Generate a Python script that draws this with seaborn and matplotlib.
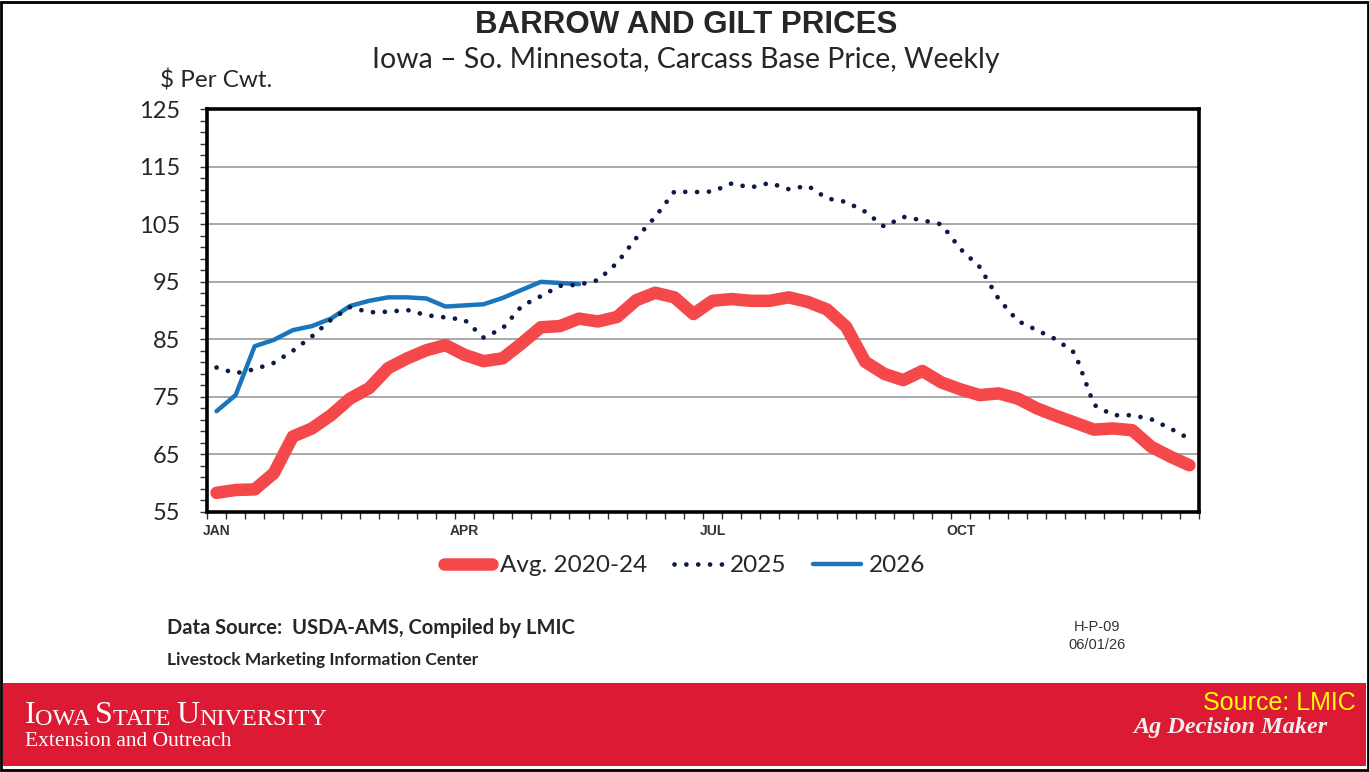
import numpy as np
import pandas as pd
import matplotlib.pyplot as plt
import seaborn as sns
from matplotlib.patches import Rectangle
from matplotlib.text import Annotation
from matplotlib.ticker import FixedLocator

# ── Data ($ per cwt, weekly) ──────────────────────────────────
weeks = list(range(52))
avg_2020_24 = [58.3, 58.8, 58.9, 61.7, 68.1, 69.5, 71.8, 74.7, 76.5, 80.0,
               81.7, 83.1, 84.0, 82.3, 81.2, 81.7, 84.3, 87.1, 87.3, 88.6,
               88.1, 88.9, 91.8, 93.1, 92.3, 89.4, 91.7, 92.0, 91.7, 91.7,
               92.3, 91.5, 90.2, 87.2, 81.1, 79.0, 77.9, 79.5, 77.5, 76.3,
               75.3, 75.6, 74.7, 73.0, 71.7, 70.5, 69.3, 69.5, 69.2, 66.3,
               64.6, 63.1]
prices_2025 = [80.1, 79.1, 79.8, 80.9, 83.0, 85.5, 88.4, 90.6, 89.7, 89.8,
               90.1, 89.2, 88.8, 88.4, 85.3, 86.9, 90.8, 92.5, 94.3, 94.5,
               95.3, 98.3, 102.6, 106.3, 110.7, 110.6, 110.7, 112.1, 111.4, 112.2,
               111.1, 111.7, 109.5, 108.9, 107.2, 104.6, 106.3, 105.7, 105.0, 100.7,
               97.6, 92.0, 88.2, 86.6, 85.0, 82.6, 73.6, 71.8, 71.8, 71.1,
               69.5, 67.7]
prices_2026 = [72.5, 75.3, 83.8, 84.9, 86.6, 87.3, 88.6, 90.8, 91.7, 92.3,
               92.3, 92.1, 90.7, 90.9, 91.1, 92.2, 93.6, 95.0, 94.8, 94.6]

month_labels = ["JAN", "APR", "JUL", "OCT"]
month_weeks = [0, 13, 26, 39]
y_ticks = [55, 65, 75, 85, 95, 105, 115, 125]

df_avg = pd.DataFrame({"week": weeks, "price": avg_2020_24})
df_25 = pd.DataFrame({"week": weeks, "price": prices_2025})
df_26 = pd.DataFrame({"week": weeks[:len(prices_2026)], "price": prices_2026})

sns.set_style("white")
plt.rcParams["font.family"] = ["Lato", "DejaVu Sans"]

fig = plt.figure(figsize=(13.69, 7.72), dpi=100)
ax = fig.add_axes([0.1512, 0.337, 0.7246, 0.5214])

# ── Lines ──────────────────────────────────────────
sns.lineplot(data=df_avg, x="week", y="price", ax=ax, color="#f5484a",
             linewidth=9, solid_capstyle="round", label="Avg. 2020-24", zorder=2)
sns.lineplot(data=df_25, x="week", y="price", ax=ax, color="#0c1a48",
             linewidth=3.4, linestyle=(0, (0.01, 2.5)), dash_capstyle="round",
             label="2025", zorder=4)
sns.lineplot(data=df_26, x="week", y="price", ax=ax, color="#1b75bb",
             linewidth=3.2, label="2026", zorder=3)

# ── Axes ───────────────────────────────────────────
ax.set_xlim(-0.5, 51.5)
ax.set_ylim(55, 125)
ax.set_xlabel("")
ax.set_ylabel("")

ax.xaxis.set_major_locator(FixedLocator(np.arange(-0.5, 52, 1)))
ax.tick_params(axis="x", which="major", direction="out", length=5, width=1,
               color="#333333", labelbottom=False, bottom=True)
ax.set_xticks(month_weeks, labels=month_labels, minor=True)
ax.tick_params(axis="x", which="minor", length=0, pad=9, labelsize=10,
               labelcolor="#333333")
for lbl in ax.get_xticklabels(minor=True):
    lbl.set_family("Liberation Sans")
    lbl.set_fontweight("bold")

ax.set_yticks(y_ticks)
ax.yaxis.set_minor_locator(FixedLocator(np.arange(57, 125, 2)))
ax.tick_params(axis="y", which="both", direction="out", length=5, width=1,
               color="#333333", left=True, labelsize=17, pad=14)
ax.grid(True, axis="y", which="major", color="#9a9a9a", linewidth=1.2)
for s in ax.spines.values():
    s.set_color("black")
    s.set_linewidth(2.6)

ax.legend(loc="center", bbox_to_anchor=(0.5, 0.267),
          bbox_transform=fig.transFigure, ncol=3, frameon=False, fontsize=17.5,
          handlelength=2.0, handletextpad=0.3, columnspacing=1.1)

# ── Titles and notes ───────────────────────────────
fig.text(0.501, 0.968, "BARROW AND GILT PRICES", ha="center", va="center",
         fontsize=22.5, fontweight="bold", family="Liberation Sans")
fig.text(0.501, 0.922, "Iowa \u2013 So. Minnesota, Carcass Base Price, Weekly",
         ha="center", va="center", fontsize=20.5)
fig.text(0.117, 0.896, "$ Per Cwt.", ha="left", va="center", fontsize=17.5)
fig.text(0.122, 0.187, "Data Source:  USDA-AMS, Compiled by LMIC",
         ha="left", va="center", fontsize=14.5, fontweight="bold")
fig.text(0.122, 0.145, "Livestock Marketing Information Center",
         ha="left", va="center", fontsize=12.5, fontweight="bold")
fig.text(0.801, 0.188, "H-P-09", ha="center", va="center", fontsize=10.5,
         family="Liberation Sans", color="#333333")
fig.text(0.801, 0.165, "06/01/26", ha="center", va="center", fontsize=10.5,
         family="Liberation Sans", color="#333333")

# ── Footer band ────────────────────────────────────
fig.patches.append(Rectangle((0.002, 0.0078), 0.996, 0.1075,
                             transform=fig.transFigure, facecolor="#dc1a33",
                             edgecolor="none", zorder=-1))
fig.patches.append(Rectangle((0.001, 0.002), 0.998, 0.996,
                             transform=fig.transFigure, fill=False,
                             edgecolor="black", linewidth=2, zorder=5))

# small caps wordmark, pieced together letter group by letter group
parts = [("I", 23), ("OWA ", 17.5), ("S", 23), ("TATE ", 17.5), ("U", 23), ("NIVERSITY", 17.5)]
prev = fig.text(0.018, 0.054, parts[0][0], ha="left", va="bottom",
                fontsize=parts[0][1], family="Liberation Serif", color="white")
for txt, size in parts[1:]:
    prev = fig.add_artist(Annotation(txt, xy=(1, 0), xycoords=prev,
                                     ha="left", va="bottom", fontsize=size,
                                     family="Liberation Serif", color="white"))
fig.text(0.018, 0.039, "Extension and Outreach", ha="left", va="center",
         fontsize=15.5, family="Liberation Serif", color="white")
fig.text(0.990, 0.089, "Source: LMIC", ha="right", va="center", fontsize=18,
         family="Liberation Sans", color="#ffff00")
fig.text(0.970, 0.057, "Ag Decision Maker", ha="right", va="center",
         fontsize=17.5, family="Liberation Serif", fontweight="bold",
         fontstyle="italic", color="#f4eef0")

fig.savefig("out.png", dpi=100)
